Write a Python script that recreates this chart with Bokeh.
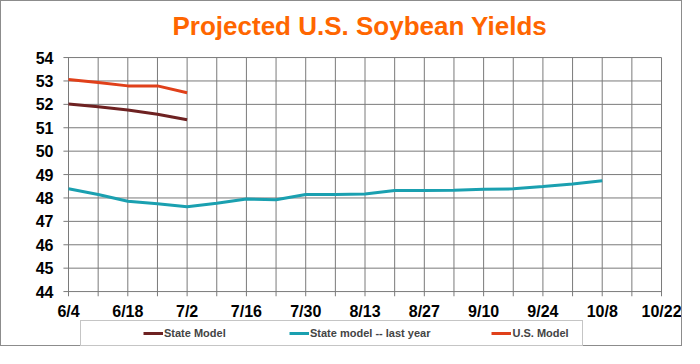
import pandas as pd
from bokeh.plotting import figure
from bokeh.models import Legend, LegendItem
from bokeh.core.properties import value
from bokeh.embed import file_html
from bokeh.resources import INLINE

YEAR = 2012
state_dates = ["6/4", "6/11", "6/18", "6/25", "7/2"]
state_model = [52.02, 51.9, 51.76, 51.58, 51.34]
us_model = [53.06, 52.93, 52.79, 52.79, 52.5]
last_year_dates = ["6/4", "6/11", "6/18", "6/25", "7/2", "7/9", "7/16", "7/23", "7/30",
                   "8/6", "8/13", "8/20", "8/27", "9/3", "9/10", "9/17", "9/24", "10/1", "10/8"]
last_year = [48.39, 48.15, 47.86, 47.75, 47.62, 47.77, 47.96, 47.92, 48.15,
             48.15, 48.17, 48.32, 48.32, 48.33, 48.37, 48.39, 48.49, 48.6, 48.74]
x_tick_labels = ["6/4", "6/18", "7/2", "7/16", "7/30", "8/13", "8/27", "9/10", "9/24", "10/8", "10/22"]
x_grid_labels = ["6/4", "6/11", "6/18", "6/25", "7/2", "7/9", "7/16", "7/23", "7/30", "8/6", "8/13",
                 "8/20", "8/27", "9/3", "9/10", "9/17", "9/24", "10/1", "10/8", "10/15", "10/22"]
y_ticks = [44, 45, 46, 47, 48, 49, 50, 51, 52, 53, 54]
y_tick_labels = [str(v) for v in y_ticks]

base = pd.Timestamp(f"6/4/{YEAR}")
def days(lst):
    return [(pd.Timestamp(f"{d}/{YEAR}") - base).days for d in lst]

xs_state = days(state_dates)
xs_last = days(last_year_dates)
xt = days(x_tick_labels)
xg = days(x_grid_labels)
y_lo, y_hi = y_ticks[0], y_ticks[-1]
GRID = "#7a7a7a"
TICK_Y = 0.2   # tick length below the x axis (y units)
TICK_X = 1.2   # tick length left of the y axis (x units)

# the frame covers the whole figure below the title so all labels and the legend fit inside it
p = figure(width=682, height=346, output_backend="svg", toolbar_location=None,
           x_range=(xt[0] - 15.82, xt[0] + 145.19), y_range=(y_lo - 2.39, y_hi + 0.43),
           x_axis_location=None, y_axis_location=None,
           min_border_left=0, min_border_right=0, min_border_top=46, min_border_bottom=0)
p.styles = {"border": "1px solid #8c8c8c"}
p.outline_line_color = None
p.xgrid.visible = False
p.ygrid.visible = False

p.title.text = "Projected U.S. Soybean Yields"
p.title.text_color = "#FF6600"
p.title.text_font = "Liberation Sans"
p.title.text_font_size = "26px"
p.title.text_font_style = "bold"
p.title.align = "left"
p.title.offset = 171
p.title.standoff = 14

# grid lines, extending a little past the axes as tick marks
p.segment(x0=xg, y0=[y_lo - TICK_Y] * len(xg), x1=xg, y1=[y_hi] * len(xg),
          line_color=GRID, line_width=1)
p.segment(x0=[xg[0] - TICK_X] * len(y_ticks), y0=y_ticks, x1=[xg[-1]] * len(y_ticks), y1=y_ticks,
          line_color=GRID, line_width=1)

r1 = p.line(xs_state, state_model, line_color="#6E2222", line_width=3)
r2 = p.line(xs_last, last_year, line_color="#1AA0B0", line_width=3)
r3 = p.line(xs_state, us_model, line_color="#E0401A", line_width=3)

# tick labels
p.text(x=xt, y=[y_lo] * len(xt), text=x_tick_labels, text_align="center",
       text_baseline="top", y_offset=11, text_font=value("Liberation Sans"),
       text_font_size="16px", text_font_style="bold", text_color="black")
p.text(x=[xg[0]] * len(y_ticks), y=y_ticks, text=y_tick_labels, text_align="right",
       text_baseline="middle", x_offset=-15, text_font=value("Liberation Sans"),
       text_font_size="16px", text_font_style="bold", text_color="black")

legend = Legend(items=[LegendItem(label="State Model", renderers=[r1]),
                       LegendItem(label="State model -- last year", renderers=[r2]),
                       LegendItem(label="U.S. Model", renderers=[r3])],
                orientation="horizontal", location=(79, 1),
                title=" ", title_location="left", title_standoff=55,
                title_text_font_size="1px",
                glyph_width=20, glyph_height=10, label_standoff=1,
                spacing=61, label_width=64, padding=6, margin=0,
                label_text_font="Liberation Sans", label_text_font_size="11px",
                label_text_font_style="bold", label_height=11,
                border_line_color="#8c8c8c", border_line_width=1,
                background_fill_color="white", background_fill_alpha=1)
p.add_layout(legend, "center")

open("out.html", "w").write(file_html(p, INLINE))
